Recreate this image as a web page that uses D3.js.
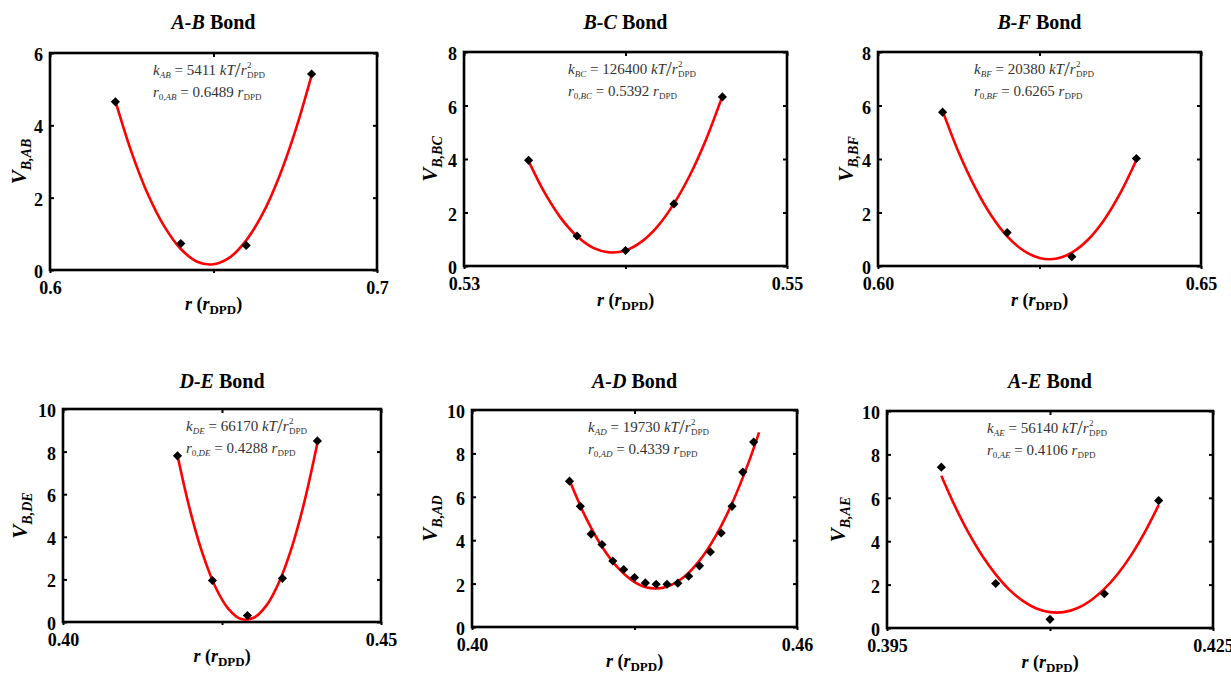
<!DOCTYPE html>
<html>
<head>
<meta charset="utf-8">
<script src="https://cdn.jsdelivr.net/npm/d3@7"></script>
<style>
  body { margin: 0; background: #fff; }
  svg, svg text { font-family: "Liberation Serif", "DejaVu Serif", "Noto Serif", serif !important; }
</style>
</head>
<body>
<script>
// Datos de cada enlace
const bondNames = ["A-B", "B-C", "B-F", "D-E", "A-D", "A-E"];
const bondSubs = ["AB", "BC", "BF", "DE", "AD", "AE"];
const kValues = ["5411", "126400", "20380", "66170", "19730", "56140"];
const r0Values = ["0.6489", "0.5392", "0.6265", "0.4288", "0.4339", "0.4106"];

const xDomains = [[0.6, 0.7], [0.53, 0.55], [0.60, 0.65], [0.40, 0.45], [0.40, 0.46], [0.395, 0.425]];
const xTickLabels = [["0.6", "0.7"], ["0.53", "0.55"], ["0.60", "0.65"], ["0.40", "0.45"], ["0.40", "0.46"], ["0.395", "0.425"]];
const yTicks = [
  [0, 2, 4, 6],
  [0, 2, 4, 6, 8],
  [0, 2, 4, 6, 8],
  [0, 2, 4, 6, 8, 10],
  [0, 2, 4, 6, 8, 10],
  [0, 2, 4, 6, 8, 10]
];

// Puntos simulados (diamantes)
const rAB = [0.62, 0.64, 0.66, 0.68];
const vAB = [4.65, 0.73, 0.68, 5.42];
const rBC = [0.534, 0.537, 0.540, 0.543, 0.546];
const vBC = [3.95, 1.12, 0.58, 2.32, 6.32];
const rBF = [0.61, 0.62, 0.63, 0.64];
const vBF = [5.75, 1.25, 0.35, 4.02];
const rDE = [0.418, 0.4235, 0.429, 0.4345, 0.440];
const vDE = [7.8, 1.95, 0.3, 2.05, 8.5];
const rAD = [0.418, 0.420, 0.422, 0.424, 0.426, 0.428, 0.430, 0.432, 0.434,
             0.436, 0.438, 0.440, 0.442, 0.444, 0.446, 0.448, 0.450, 0.452];
const vAD = [6.72, 5.56, 4.28, 3.80, 3.04, 2.65, 2.28, 2.03, 1.97,
             1.97, 2.02, 2.34, 2.82, 3.46, 4.33, 5.56, 7.14, 8.52];
const rAE = [0.400, 0.405, 0.410, 0.415, 0.420];
const vAE = [7.41, 2.05, 0.40, 1.58, 5.87];

// Curvas de ajuste (rojo)
const fitRAB = [0.62, 0.625, 0.63, 0.635, 0.64, 0.645, 0.65, 0.655, 0.66, 0.665, 0.67, 0.675, 0.68];
const fitVAB = [4.67, 3.24, 2.08, 1.20, 0.58, 0.23, 0.16, 0.35, 0.82, 1.55, 2.56, 3.84, 5.38];
const fitRBC = [0.534, 0.535, 0.536, 0.537, 0.538, 0.539, 0.540, 0.541, 0.542, 0.543, 0.544, 0.545, 0.546];
const fitVBC = [3.92, 2.73, 1.79, 1.11, 0.68, 0.51, 0.58, 0.91, 1.49, 2.33, 3.41, 4.75, 6.35];
const fitRBF = [0.61, 0.6125, 0.615, 0.6175, 0.62, 0.6225, 0.625, 0.6275, 0.63, 0.6325, 0.635, 0.6375, 0.64];
const fitVBF = [5.80, 4.24, 2.95, 1.90, 1.11, 0.58, 0.30, 0.27, 0.50, 0.98, 1.72, 2.72, 3.96];
const fitRDE = [0.418, 0.420, 0.422, 0.424, 0.426, 0.428, 0.430, 0.432, 0.434, 0.436, 0.438, 0.440];
const fitVDE = [7.82, 5.22, 3.16, 1.62, 0.62, 0.14, 0.20, 0.78, 1.89, 3.53, 5.70, 8.40];
const fitRAD = [0.418, 0.421, 0.424, 0.427, 0.430, 0.433, 0.436, 0.439, 0.442, 0.445, 0.448, 0.451, 0.453];
const fitVAD = [6.76, 5.05, 3.70, 2.71, 2.07, 1.79, 1.86, 2.28, 3.06, 4.20, 5.69, 7.54, 8.97];
const fitRAE = [0.400, 0.40125, 0.4025, 0.40375, 0.405, 0.40625, 0.4075, 0.40875, 0.410,
                0.41125, 0.4125, 0.41375, 0.415, 0.41625, 0.4175, 0.41875, 0.420];
const fitVAE = [7.02, 5.62, 4.39, 3.34, 2.47, 1.77, 1.25, 0.90, 0.73,
                0.73, 0.91, 1.27, 1.80, 2.50, 3.38, 4.44, 5.67];

const puntosR = [rAB, rBC, rBF, rDE, rAD, rAE];
const puntosV = [vAB, vBC, vBF, vDE, vAD, vAE];
const ajusteR = [fitRAB, fitRBC, fitRBF, fitRDE, fitRAD, fitRAE];
const ajusteV = [fitVAB, fitVBC, fitVBF, fitVDE, fitVAD, fitVAE];

// Posiciones de cada panel (area del grafico)
const layout = [
  { l: 50,  t: 53,  r: 377,  b: 270, yl: 26 },
  { l: 464, t: 52,  r: 787,  b: 266, yl: 437 },
  { l: 878, t: 52,  r: 1201, b: 266, yl: 853 },
  { l: 63,  t: 409, r: 381,  b: 622, yl: 27 },
  { l: 472, t: 410, r: 797,  b: 627, yl: 437 },
  { l: 887, t: 411, r: 1213, b: 628, yl: 845 }
];
const annOffset = [103, 104, 96, 123, 116, 100];
const titleY = [29, 29, 29, 388, 388, 388];

const fuente = "'Liberation Serif', 'DejaVu Serif', serif";

const svg = d3.select("body")
  .append("svg")
  .attr("width", 1231)
  .attr("height", 673)
  .attr("font-family", fuente);

function dibujarPanel(i) {
  const p = layout[i];
  const g = svg.append("g");

  const x = d3.scaleLinear().domain(xDomains[i]).range([p.l, p.r]);
  const yMax = yTicks[i][yTicks[i].length - 1];
  const y = d3.scaleLinear().domain([0, yMax]).range([p.b, p.t]);
  const xTicks = [xDomains[i][0], (xDomains[i][0] + xDomains[i][1]) / 2, xDomains[i][1]];
  const fmtX = d => d === xDomains[i][0] ? xTickLabels[i][0] : (d === xDomains[i][1] ? xTickLabels[i][1] : "");

  // Ejes
  const ejeAbajo = g.append("g")
    .attr("transform", `translate(0,${p.b})`)
    .call(d3.axisBottom(x).tickValues(xTicks).tickFormat(fmtX).tickSizeInner(3).tickSizeOuter(0).tickPadding(8));
  const ejeArriba = g.append("g")
    .attr("transform", `translate(0,${p.t})`)
    .call(d3.axisTop(x).tickValues(xTicks).tickFormat("").tickSizeInner(-4).tickSizeOuter(0));
  const ejeIzq = g.append("g")
    .attr("transform", `translate(${p.l},0)`)
    .call(d3.axisLeft(y).tickValues(yTicks[i]).tickFormat(d3.format("d")).tickSizeInner(-4).tickSizeOuter(0).tickPadding(7));
  const ejeDer = g.append("g")
    .attr("transform", `translate(${p.r},0)`)
    .call(d3.axisRight(y).tickValues(yTicks[i]).tickFormat("").tickSizeInner(-4).tickSizeOuter(0));

  [ejeAbajo, ejeArriba, ejeIzq, ejeDer].forEach(e => {
    e.attr("font-family", fuente);
    e.select(".domain").remove();
    e.selectAll(".tick line").attr("stroke", "#000").attr("stroke-width", 2);
    e.selectAll("text")
      .attr("fill", "#000")
      .attr("font-family", fuente)
      .attr("font-weight", "bold")
      .attr("font-size", 18);
  });
  ejeIzq.selectAll("text").attr("dy", "0.42em");

  // Marco
  g.append("rect")
    .attr("x", p.l).attr("y", p.t)
    .attr("width", p.r - p.l).attr("height", p.b - p.t)
    .attr("fill", "none")
    .attr("stroke", "#000")
    .attr("stroke-width", 2.6);

  // Curva de ajuste
  const linea = d3.line()
    .x(d => x(d[0]))
    .y(d => y(d[1]))
    .curve(d3.curveCatmullRom);
  const datosAjuste = ajusteR[i].map((r, j) => [r, ajusteV[i][j]]);
  g.append("path")
    .attr("d", linea(datosAjuste))
    .attr("fill", "none")
    .attr("stroke", "#ff0000")
    .attr("stroke-width", 2.6);

  // Puntos
  const diamante = d3.symbol().type(d3.symbolSquare).size(42);
  puntosR[i].forEach((r, j) => {
    g.append("path")
      .attr("d", diamante())
      .attr("transform", `translate(${x(r)},${y(puntosV[i][j])}) rotate(45)`)
      .attr("fill", "#000");
  });

  // Titulo
  const cx = (p.l + p.r) / 2;
  const titulo = g.append("text")
    .attr("x", cx).attr("y", titleY[i])
    .attr("text-anchor", "middle")
    .attr("font-size", 20)
    .attr("font-weight", "bold");
  titulo.append("tspan").attr("font-style", "italic").text(bondNames[i]);
  titulo.append("tspan").text(" Bond");

  // Etiqueta eje x
  const etX = g.append("text")
    .attr("x", cx).attr("y", p.b + 40)
    .attr("text-anchor", "middle")
    .attr("font-size", 18)
    .attr("font-weight", "bold");
  etX.append("tspan").attr("font-style", "italic").text("r");
  etX.append("tspan").text(" (");
  etX.append("tspan").attr("font-style", "italic").text("r");
  etX.append("tspan").attr("font-size", 13).attr("dy", 4).text("DPD");
  etX.append("tspan").attr("dy", -4).text(")");

  // Etiqueta eje y
  const etY = g.append("text")
    .attr("transform", `translate(${p.yl},${(p.t + p.b) / 2}) rotate(-90)`)
    .attr("text-anchor", "middle")
    .attr("font-weight", "bold")
    .attr("font-style", "italic");
  etY.append("tspan").attr("font-size", 21).text("V");
  etY.append("tspan").attr("font-size", 14).attr("dy", 5).text("B," + bondSubs[i]);

  // Anotacion con k y r0
  const ax = p.l + annOffset[i];
  const y1 = p.t + 22;
  const y2 = p.t + 44;
  const fila1 = g.append("text")
    .attr("x", ax).attr("y", y1)
    .attr("fill", "#333")
    .attr("font-size", 15);
  fila1.append("tspan").attr("font-style", "italic").text("k");
  fila1.append("tspan").attr("font-style", "italic").attr("font-size", 9).attr("dy", 3).text(bondSubs[i]);
  fila1.append("tspan").attr("dy", -3).text(" = " + kValues[i] + " ");
  fila1.append("tspan").attr("font-style", "italic").text("kT");
  fila1.append("tspan").attr("font-size", 21).attr("dy", 2).text("/");
  fila1.append("tspan").attr("font-style", "italic").attr("dy", -2).text("r");
  const largo = fila1.node().getComputedTextLength();
  g.append("text")
    .attr("x", ax + largo + 0.5).attr("y", y1 - 7)
    .attr("fill", "#333")
    .attr("font-size", 9)
    .text("2");
  g.append("text")
    .attr("x", ax + largo + 0.5).attr("y", y1 + 3)
    .attr("fill", "#333")
    .attr("font-size", 9)
    .text("DPD");

  const fila2 = g.append("text")
    .attr("x", ax).attr("y", y2)
    .attr("fill", "#333")
    .attr("font-size", 15);
  fila2.append("tspan").attr("font-style", "italic").text("r");
  fila2.append("tspan").attr("font-size", 9).attr("dy", 3).text("0,");
  fila2.append("tspan").attr("font-size", 9).attr("font-style", "italic").text(bondSubs[i]);
  fila2.append("tspan").attr("dy", -3).text(" = " + r0Values[i] + " ");
  fila2.append("tspan").attr("font-style", "italic").text("r");
  fila2.append("tspan").attr("font-size", 9).attr("dy", 3).text("DPD");
}

for (let i = 0; i < 6; i++) {
  dibujarPanel(i);
}
</script>
</body>
</html>
